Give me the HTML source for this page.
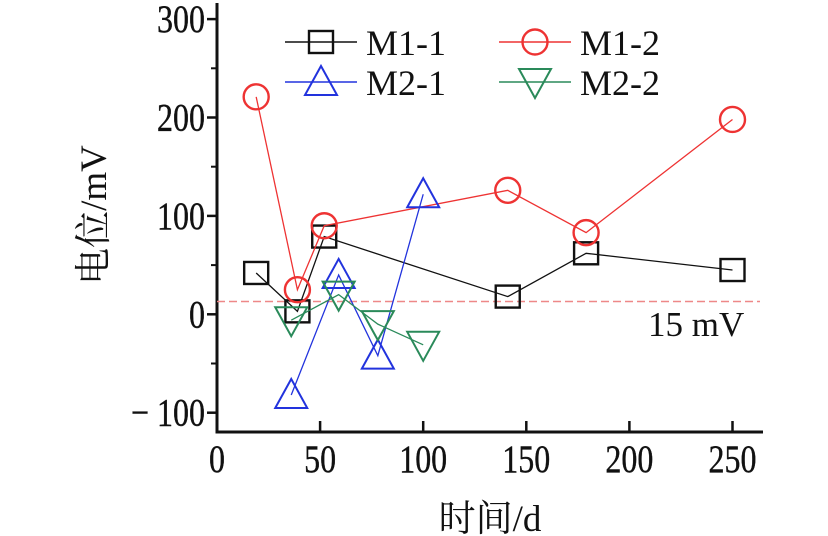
<!DOCTYPE html>
<html><head><meta charset="utf-8"><style>
body{margin:0;background:#fff}
svg{display:block}
text{font-family:"Liberation Serif","Noto Serif CJK SC",serif;fill:#111}
</style></head><body>
<svg id="chart" width="828" height="536" viewBox="0 0 828 536"></svg>
<script>
const xTicks=[0,50,100,150,200,250];
const yTicks=[300,200,100,0,-100];
const m11x=[19,39,52,141,179,250];
const m11y=[42,3,79,18,62,45];
const m12x=[19,39,52,141,179,250];
const m12y=[221,25,90,126,83,198];
const m21x=[36,59,78,100];
const m21y=[-82,40,-42,122];
const m22x=[36,59,78,100];
const m22y=[-6,20,-10,-31];
const thresh=13;

const NS="http://www.w3.org/2000/svg";
const svg=document.getElementById('chart');
const X0=217,XS=2.062,Y0=314.3,YS=0.984;
const sx=v=>X0+v*XS, sy=v=>Y0-v*YS;
function el(t,a,p){const e=document.createElementNS(NS,t);for(const k in a)e.setAttribute(k,a[k]);(p||svg).appendChild(e);return e;}

const ax=el('path',{d:`M${X0} 3V432H763`,fill:'none',stroke:'#111','stroke-width':3});


xTicks.forEach(v=>{
  if(v>0){const t=el('line',{x1:sx(v),x2:sx(v),y1:432,y2:421,stroke:'#111','stroke-width':2.5});
  
  }
  const l=el('text',{x:sx(v),y:472,'text-anchor':'middle','font-size':39,stroke:'#111','stroke-width':0.4,transform:`translate(${sx(v)} 0) scale(0.82 1) translate(${-sx(v)} 0)`});
  l.textContent=v;
  
  
});
[250,150,50,-50].forEach(v=>{
  const t=el('line',{x1:X0,x2:X0-6,y1:sy(v),y2:sy(v),stroke:'#111','stroke-width':2});
  
  
});
yTicks.forEach(v=>{
  const t=el('line',{x1:X0,x2:X0-10,y1:sy(v),y2:sy(v),stroke:'#111','stroke-width':2.5});
  
  
  const l=el('text',{x:205,y:sy(v)+13,'text-anchor':'end','font-size':39,stroke:'#111','stroke-width':0.4,transform:`translate(205 0) scale(0.82 1) translate(-205 0)`});
  l.textContent=v<0?'− '+(-v):v;
  
  
});
const xt=el('text',{x:490,y:531,'text-anchor':'middle','font-size':37});
xt.textContent='时间/d';


const yt=el('text',{x:0,y:0,'text-anchor':'middle','font-size':37,transform:'translate(106 215) rotate(-90)'});
yt.textContent='电位/mV';



const th=el('line',{x1:X0,x2:760,y1:sy(thresh),y2:sy(thresh),stroke:'#e88','stroke-width':1.5,'stroke-dasharray':'8 4'});


const tl=el('text',{x:648,y:336,'font-size':35});
tl.textContent='15 mV';



function marker(type,cx,cy,col,g){
  let e;
  if(type==='sq') e=el('rect',{x:cx-12,y:cy-11,width:24,height:22,fill:'none',stroke:col,'stroke-width':2.4},g);
  else if(type==='ci') e=el('ellipse',{cx:cx,cy:cy,rx:12.5,ry:12.5,fill:'none',stroke:col,'stroke-width':2.4},g);
  else if(type==='up') e=el('path',{d:`M${cx} ${cy-16}L${cx+16} ${cy+13}H${cx-16}Z`,fill:'none',stroke:col,'stroke-width':2},g);
  else e=el('path',{d:`M${cx} ${cy+16}L${cx+16} ${cy-13}H${cx-16}Z`,fill:'none',stroke:col,'stroke-width':2},g);
  return e;
}
function series(name,xs,ys,col,type){
  const g=el('g',{});
  
  
  const ln=el('polyline',{points:xs.map((x,i)=>sx(x)+','+sy(ys[i])).join(' '),fill:'none',stroke:col,'stroke-width':1.3},g);
  
  
  xs.forEach((x,i)=>{
    const m=marker(type,sx(x),sy(ys[i]),col,g);
    
    
  });
}
series('m1-1',m11x,m11y,'#111','sq');
series('m1-2',m12x,m12y,'#e33','ci');
series('m2-1',m21x,m21y,'#2233dd','up');
series('m2-2',m22x,m22y,'#2a8a5a','dn');

const legend=[['M1-1','#111','sq',285,42],['M1-2','#e33','ci',499,42],['M2-1','#2233dd','up',285,82],['M2-2','#2a8a5a','dn',499,82]];
legend.forEach(([n,c,t,x,y])=>{
  const g=el('g',{});
  
  
  el('line',{x1:x,x2:x+72,y1:y,y2:y,stroke:c,'stroke-width':1.5},g);
  marker(t,x+36,y,c,g);
  const tx=el('text',{x:x+81,y:y+13,'font-size':36},g);
  tx.textContent=n;
});
</script>
</body></html>
